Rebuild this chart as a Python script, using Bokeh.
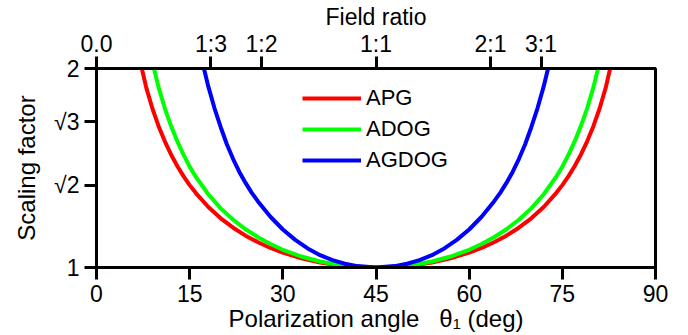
from bokeh.plotting import figure
from bokeh.models import Range1d, LinearAxis, FixedTicker
from bokeh.embed import file_html
from bokeh.resources import INLINE

# ---- data ----
apg_theta = [7.3, 8, 9, 10, 11, 12, 13, 14, 15, 16, 18, 20, 22, 24, 26, 28, 30, 33, 36, 39, 42, 45,
             48, 51, 54, 57, 60, 62, 64, 66, 68, 70, 72, 74, 75, 76, 77, 78, 79, 80, 81, 82, 82.7]
apg_scale = [2.0, 1.905, 1.799, 1.71, 1.634, 1.568, 1.51, 1.459, 1.414, 1.374, 1.304, 1.247, 1.2, 1.16,
             1.127, 1.098, 1.075, 1.046, 1.025, 1.011, 1.003, 1.0,
             1.003, 1.011, 1.025, 1.046, 1.075, 1.098, 1.127, 1.16, 1.2, 1.247, 1.304, 1.374, 1.414,
             1.459, 1.51, 1.568, 1.634, 1.71, 1.799, 1.905, 2.0]

adog_theta = [9.25, 10, 11, 12, 13, 14, 15, 16, 18, 20, 22, 24, 26, 28, 30, 33, 36, 39, 42, 45,
              48, 51, 54, 57, 60, 62, 64, 66, 68, 70, 72, 74, 75, 76, 77, 78, 79, 80, 80.75]
adog_scale = [2.0, 1.905, 1.80, 1.712, 1.635, 1.567, 1.507, 1.455, 1.368, 1.297, 1.24, 1.192, 1.152,
              1.118, 1.089, 1.055, 1.03, 1.013, 1.003, 1.0,
              1.003, 1.013, 1.03, 1.055, 1.089, 1.118, 1.152, 1.192, 1.24, 1.297, 1.368, 1.455, 1.507,
              1.567, 1.635, 1.712, 1.80, 1.905, 2.0]

agdog_theta = [17.3, 18, 19, 20, 21, 22, 23, 24, 25, 26, 28, 30, 32, 34, 36, 38, 40, 42, 45,
               48, 50, 52, 54, 56, 58, 60, 62, 64, 65, 66, 67, 68, 69, 70, 71, 72, 72.7]
agdog_scale = [2.0, 1.91, 1.80, 1.705, 1.618, 1.545, 1.48, 1.425, 1.375, 1.332, 1.255, 1.191, 1.139,
               1.096, 1.062, 1.037, 1.019, 1.007, 1.0,
               1.007, 1.019, 1.037, 1.062, 1.096, 1.139, 1.191, 1.255, 1.332, 1.375, 1.425, 1.48,
               1.545, 1.618, 1.705, 1.80, 1.91, 2.0]

x_ticks = [0, 15, 30, 45, 60, 75, 90]
y_ticks = [1, 1.4142, 1.7321, 2]
y_tick_labels = ["1", "√2", "√3", "2"]
top_ticks = [0, 18.43, 26.57, 45, 63.43, 71.57]
top_tick_labels = ["0.0", "1:3", "1:2", "1:1", "2:1", "3:1"]

FONT = "Liberation Sans"

p = figure(width=688, height=335, output_backend="svg", toolbar_location=None,
           x_range=Range1d(0, 90), y_range=Range1d(1, 2),
           min_border_left=96, min_border_right=33, min_border_top=68, min_border_bottom=68)
p.xgrid.visible = False
p.ygrid.visible = False
p.outline_line_color = "black"
p.outline_line_width = 3
p.outline_line_alpha = 1
p.background_fill_color = "white"
p.border_fill_color = "white"


def style(ax, size="23px"):
    ax.axis_line_width = 3
    ax.axis_line_color = "black"
    ax.major_tick_line_width = 3
    ax.major_tick_line_color = "black"
    ax.major_tick_out = 12
    ax.major_tick_in = 0
    ax.minor_tick_line_color = None
    ax.major_label_text_font = FONT
    ax.major_label_text_font_size = size
    ax.major_label_text_color = "black"
    ax.axis_label_text_font = FONT
    ax.axis_label_text_font_style = "normal"
    ax.axis_label_text_font_size = size
    ax.axis_label_text_color = "black"


xa = p.xaxis[0]
xa.ticker = FixedTicker(ticks=x_ticks)
xa.axis_label = "Polarization angle\u00a0\u00a0\u00a0θ₁ (deg)"
style(xa)
xa.axis_label_text_font_size = "24px"
xa.major_label_standoff = 5
xa.axis_label_standoff = 0

ya = p.yaxis[0]
ya.ticker = FixedTicker(ticks=y_ticks)
ya.major_label_overrides = {t: l for t, l in zip(y_ticks, y_tick_labels)}
ya.axis_label = "Scaling factor"
style(ya)
ya.axis_label_text_font_size = "24px"
ya.major_label_standoff = 5
ya.axis_label_standoff = 11

top = LinearAxis(ticker=FixedTicker(ticks=top_ticks),
                 major_label_overrides={t: l for t, l in zip(top_ticks, top_tick_labels)},
                 axis_label="Field ratio")
style(top)
top.major_label_standoff = 0
top.axis_label_standoff = -2
p.add_layout(top, "above")

p.line(apg_theta, apg_scale, line_color="#FF0000", line_width=4, legend_label="APG")
p.line(adog_theta, adog_scale, line_color="#00FF00", line_width=4, legend_label="ADOG")
p.line(agdog_theta, agdog_scale, line_color="#0000FF", line_width=4, legend_label="AGDOG")

lg = p.legend[0]
lg.location = (206, 94)
lg.border_line_alpha = 0
lg.background_fill_alpha = 0
lg.label_text_font = FONT
lg.label_text_font_size = "22px"
lg.label_text_color = "black"
lg.glyph_width = 59
lg.glyph_height = 24
lg.label_height = 24
lg.spacing = 5
lg.padding = 0
lg.margin = 0
lg.label_standoff = 5

open("out.html", "w").write(file_html(p, INLINE))
